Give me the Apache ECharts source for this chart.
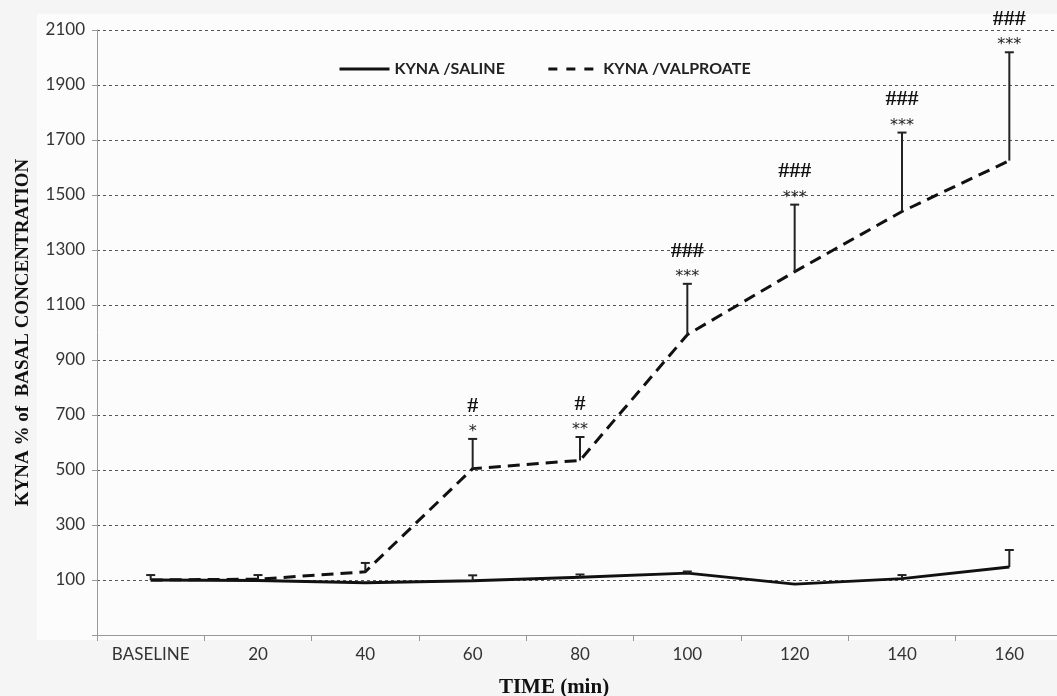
<!DOCTYPE html>
<html>
<head>
<meta charset="utf-8">
<script src="https://cdn.jsdelivr.net/npm/echarts@6/dist/echarts.min.js"></script>
<style>
html,body{margin:0;padding:0;background:#f5f5f5;}
#chart{width:1057px;height:696px;}
</style>
</head>
<body>
<div id="chart"></div>
<script>
// ---- data ----
const categories = ['BASELINE', '20', '40', '60', '80', '100', '120', '140', '160'];
const salineValues = [100, 98, 90, 97, 110, 125, 85, 105, 147];
const salineErr = [18, 0, 0, 20, 10, 6, 0, 13, 62];
const valproateValues = [100, 103, 130, 505, 535, 992, 1221, 1440, 1625];
const valproateErr = [0, 15, 32, 108, 85, 185, 244, 287, 394];
const starMarks = ['', '', '', '*', '**', '***', '***', '***', '***'];
const hashMarks = ['', '', '', '#', '#', '###', '###', '###', '###'];
const yTicks = [-100, 100, 300, 500, 700, 900, 1100, 1300, 1500, 1700, 1900, 2100];
const seriesNames = ['KYNA /SALINE', 'KYNA /VALPROATE'];

// ---- chart ----
const chart = echarts.init(document.getElementById('chart'));

function errData(vals, errs) {
  return vals.map((v, i) => [i, v, v + errs[i], errs[i]]);
}

function errRender(params, api) {
  const err = api.value(3);
  if (!err) return null;
  const i = api.value(0);
  const p0 = api.coord([i, api.value(1)]);
  const p1 = api.coord([i, api.value(2)]);
  return {
    type: 'group',
    children: [
      { type: 'line', shape: { x1: p0[0], y1: p0[1], x2: p1[0], y2: p1[1] }, style: { stroke: '#222', lineWidth: 2 } },
      { type: 'line', shape: { x1: p1[0] - 4.5, y1: p1[1], x2: p1[0] + 4.5, y2: p1[1] }, style: { stroke: '#222', lineWidth: 2 } }
    ]
  };
}

function sigRender(params, api) {
  const i = api.value(0);
  const stars = starMarks[i];
  const hash = hashMarks[i];
  if (!stars && !hash) return null;
  const p = api.coord([i, api.value(1)]);
  return {
    type: 'group',
    children: [
      { type: 'text', style: { text: stars, x: p[0], y: p[1] + 1, align: 'center', verticalAlign: 'bottom', font: '16px "DejaVu Sans"', fill: '#222' } },
      { type: 'text', style: { text: hash, x: p[0], y: p[1] - 22, align: 'center', verticalAlign: 'bottom', font: 'bold 22px "Liberation Serif"', fill: '#111' } }
    ]
  };
}

const option = {
  backgroundColor: '#f5f5f5',
  animation: false,
  graphic: [
    { type: 'rect', z: -10, silent: true, shape: { x: 37, y: 14, width: 1020, height: 626 }, style: { fill: '#fcfcfc' } }
  ],
  grid: { left: 97, right: -6, top: 30, bottom: 61, outerBoundsMode: 'none', containLabel: false },
  legend: {
    top: 56, left: 333,
    itemWidth: 50, itemHeight: 16, itemGap: 42,
    itemStyle: { opacity: 0 },
    textStyle: { fontFamily: 'Lato', fontWeight: 'bold', fontSize: 16, color: '#222' },
    data: [
      { name: seriesNames[0], lineStyle: { width: 3 } },
      { name: seriesNames[1], lineStyle: { type: [9, 9], width: 3 } }
    ]
  },
  xAxis: {
    type: 'category',
    data: categories,
    boundaryGap: true,
    name: 'TIME (min)',
    nameLocation: 'middle',
    nameGap: 42,
    nameTextStyle: { fontFamily: 'Liberation Serif', fontWeight: 'bold', fontSize: 21, color: '#111', padding: [0, 52, 0, 0] },
    axisLine: { onZero: false, lineStyle: { color: '#999', width: 1 } },
    axisTick: { show: true, alignWithLabel: false, length: 6, lineStyle: { color: '#999' } },
    axisLabel: { fontFamily: 'Lato', fontSize: 17, color: '#333', margin: 11 },
    splitLine: { show: false }
  },
  yAxis: {
    type: 'value',
    min: -100, max: 2100, interval: 200,
    name: 'KYNA % of  BASAL CONCENTRATION',
    nameLocation: 'middle',
    nameRotate: 90,
    nameGap: 64,
    nameTextStyle: { fontFamily: 'Liberation Serif', fontWeight: 'bold', fontSize: 19, color: '#111' },
    axisLine: { show: true, lineStyle: { color: '#999', width: 1 } },
    axisTick: { show: true, length: 5, lineStyle: { color: '#999' } },
    axisLabel: {
      fontFamily: 'Lato', fontSize: 17, color: '#333', margin: 12,
      formatter: v => (v === yTicks[0] ? '' : String(v))
    },
    splitLine: {
      show: true,
      lineStyle: { color: ['transparent', '#555', '#555', '#555', '#555', '#555', '#555', '#555', '#555', '#555', '#555', '#555'], type: [3, 3], width: 1 }
    }
  },
  series: [
    {
      name: seriesNames[0], type: 'line', data: salineValues, symbol: 'none',
      lineStyle: { color: '#111', width: 3 }, itemStyle: { color: '#111' }, z: 3
    },
    {
      name: seriesNames[1], type: 'line', data: valproateValues, symbol: 'none',
      lineStyle: { color: '#111', width: 3, type: [12, 7] }, itemStyle: { color: '#111' }, z: 3
    },
    { type: 'custom', data: errData(salineValues, salineErr), renderItem: errRender, encode: { x: 0, y: [1, 2] }, z: 4 },
    { type: 'custom', data: errData(valproateValues, valproateErr), renderItem: errRender, encode: { x: 0, y: [1, 2] }, z: 4 },
    { type: 'custom', data: valproateValues.map((v, i) => [i, v + valproateErr[i]]), renderItem: sigRender, encode: { x: 0, y: 1 }, z: 5 }
  ]
};
chart.setOption(option);
</script>
</body>
</html>
